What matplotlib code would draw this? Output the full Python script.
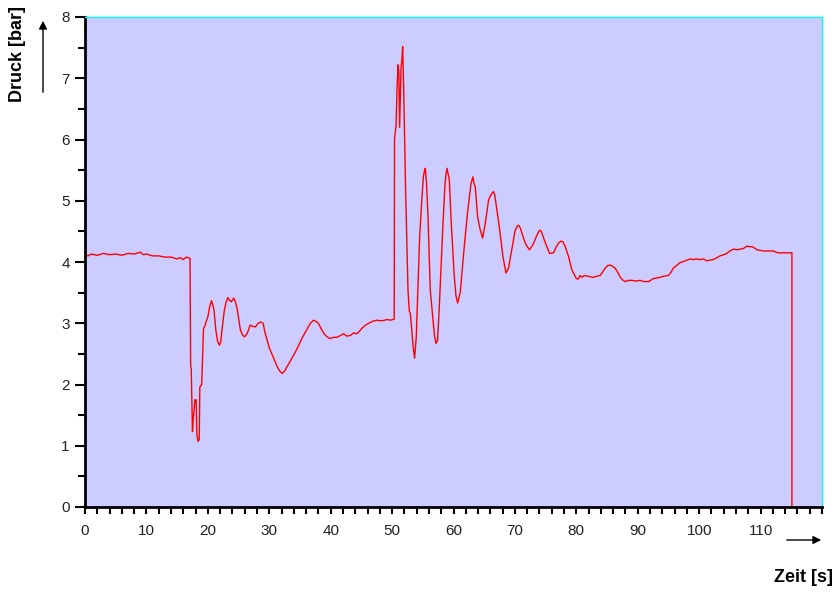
import numpy as np
import matplotlib
matplotlib.use("Agg")
import matplotlib.pyplot as plt
from matplotlib.ticker import MultipleLocator

plt.rcParams['font.family'] = ['Liberation Sans', 'DejaVu Sans']

# pressure trace (time in s, pressure in bar)
zeit = [0, 0.5, 1, 2, 3, 4, 5, 6, 7, 8, 9, 9.5, 10, 11, 12, 13, 14, 15, 15.5, 16, 16.5, 17.1,
        17.2, 17.3, 17.5, 17.6, 17.9, 18.1, 18.2, 18.4, 18.6, 18.7, 19.0, 19.1, 19.3, 19.5, 19.8,
        20.0, 20.3, 20.6, 20.8, 21.0, 21.3, 21.6, 21.9, 22.1, 22.3, 22.7, 23.0, 23.25, 23.5, 23.8,
        24.2, 24.5, 24.8, 25.3, 25.7, 26.0, 26.4, 26.9, 27.3, 27.75, 28.2, 28.6, 29.0, 29.3, 29.65,
        30.0, 30.5, 30.9, 31.3, 31.7, 32.1, 32.5, 32.9, 33.3, 33.7, 34.2, 34.8, 35.3, 35.9, 36.3,
        36.7, 37.2, 37.6, 38.0, 38.4, 38.9, 39.4, 39.9, 40.5, 41.0, 41.6, 42.1, 42.6, 43.2, 43.7,
        44.3, 44.7, 45.1, 45.7, 46.2, 46.8, 47.5, 48.3, 49.2, 49.8, 50.35,
        50.4, 50.64, 50.8, 50.97, 51.1, 51.23, 51.45, 51.6, 51.72, 51.88, 52.2, 52.59, 52.8, 52.97,
        53.2, 53.4, 53.67, 53.94, 54.22, 54.49, 54.81, 55.09, 55.3, 55.41, 55.6, 55.85, 56.22,
        56.66, 56.9, 57.15, 57.41, 57.69, 57.96, 58.29, 58.62, 58.8, 58.94, 59.1, 59.32, 59.64,
        60.13, 60.4, 60.67, 61.1, 61.65, 62.3, 62.85, 63.17, 63.3, 63.55, 63.92, 64.36, 64.74,
        65.17, 65.71, 66.0, 66.26, 66.5, 66.7, 67.0, 67.45, 68.05, 68.54, 68.97, 69.3, 69.68,
        70.0, 70.33, 70.6, 70.87, 71.3, 71.68, 72.0, 72.38, 72.7, 73.03, 73.5, 74.0, 74.3, 74.78,
        75.2, 75.64, 76.29, 76.7, 77.1, 77.5, 77.82, 78.2, 78.73, 79.28, 80.0, 80.3, 80.6, 80.9,
        81.3, 81.7, 82.3, 82.8, 83.4, 83.9, 84.3, 84.7, 85.1, 85.5, 85.9, 86.3, 86.7, 87.1, 87.5,
        87.96, 88.5, 89.0, 89.7, 90.4, 91.0, 91.75, 92.56, 93.1, 93.66, 94.3, 95.0, 95.4, 95.8,
        96.4, 96.9, 97.5, 98.0, 98.5, 99.07, 99.6, 100.1, 100.7, 101.25, 101.8, 102.3, 102.9,
        103.4, 104.0, 104.5, 105.0, 105.6, 106.2, 106.7, 107.2, 107.8, 108.2, 108.6, 109.0, 109.4,
        110.0, 110.5, 111.3, 112.1, 112.5, 112.9, 114.0, 115.1, 115.1]
druck = [4.12, 4.10, 4.13, 4.11, 4.14, 4.12, 4.13, 4.11, 4.14, 4.13, 4.16, 4.12, 4.13, 4.10, 4.10,
         4.08, 4.08, 4.05, 4.07, 4.04, 4.08, 4.06,
         2.30, 2.25, 1.23, 1.40, 1.75, 1.75, 1.20, 1.07, 1.10, 1.96, 2.00, 2.29, 2.92, 2.95, 3.05,
         3.10, 3.27, 3.37, 3.30, 3.22, 2.89, 2.70, 2.64, 2.70, 2.89, 3.22, 3.35, 3.42, 3.38, 3.35,
         3.41, 3.35, 3.22, 2.89, 2.80, 2.78, 2.83, 2.97, 2.95, 2.94, 3.00, 3.02, 3.00, 2.85, 2.73,
         2.60, 2.48, 2.38, 2.29, 2.22, 2.18, 2.22, 2.29, 2.36, 2.43, 2.52, 2.64, 2.75, 2.86, 2.93,
         3.00, 3.05, 3.03, 3.00, 2.92, 2.83, 2.78, 2.75, 2.77, 2.77, 2.80, 2.83, 2.79, 2.80, 2.84,
         2.83, 2.87, 2.92, 2.97, 3.00, 3.03, 3.05, 3.04, 3.06, 3.05, 3.07,
         6.02, 6.21, 6.81, 7.22, 7.10, 6.20, 7.16, 7.30, 7.52, 6.86, 5.18, 3.54, 3.20, 3.16,
         2.90, 2.64, 2.43, 2.78, 3.60, 4.41, 4.96, 5.39, 5.50, 5.53, 5.30, 4.74, 3.54,
         3.05, 2.80, 2.67, 2.72, 3.27, 3.87, 4.63, 5.28, 5.45, 5.53, 5.45, 5.34, 4.63,
         3.76, 3.45, 3.33, 3.50, 4.14, 4.82, 5.28, 5.39, 5.30, 5.22, 4.74, 4.52, 4.39,
         4.63, 5.01, 5.08, 5.12, 5.15, 5.10, 4.90, 4.58, 4.09, 3.82, 3.90, 4.10, 4.31,
         4.50, 4.58, 4.60, 4.56, 4.42, 4.31, 4.25, 4.20, 4.25, 4.30, 4.42, 4.52, 4.50, 4.36,
         4.25, 4.14, 4.15, 4.24, 4.31, 4.34, 4.33, 4.25, 4.09, 3.87, 3.73, 3.72, 3.78, 3.75,
         3.78, 3.77, 3.76, 3.75, 3.77, 3.78, 3.84, 3.90, 3.94, 3.95, 3.93, 3.90, 3.84, 3.76, 3.71,
         3.68, 3.70, 3.70, 3.69, 3.70, 3.68, 3.68, 3.73, 3.74, 3.75, 3.77, 3.78, 3.83, 3.90,
         3.95, 3.99, 4.01, 4.03, 4.05, 4.04, 4.05, 4.04, 4.05, 4.02, 4.03, 4.04, 4.07,
         4.10, 4.12, 4.14, 4.18, 4.21, 4.20, 4.21, 4.22, 4.26, 4.25, 4.25, 4.23, 4.20,
         4.19, 4.18, 4.18, 4.18, 4.16, 4.15, 4.15, 4.15, 0.0]

fig = plt.figure(figsize=(8.36, 5.92), dpi=100)
ax = fig.add_axes([85 / 836, 85 / 592, 737 / 836, 490 / 592])
ax.set_facecolor('#ccccff')

ax.plot(zeit, druck, color='#ff0000', lw=1.0)

ax.set_xlim(0, 120)
ax.set_ylim(0, 8)
ax.xaxis.set_minor_locator(MultipleLocator(2))
ax.yaxis.set_major_locator(MultipleLocator(1))
ax.yaxis.set_minor_locator(MultipleLocator(0.5))
ax.set_xticks(np.arange(0, 111, 10))

ax.tick_params(axis='both', which='both', direction='out', color='black', width=1.5,
               labelsize=11, labelcolor='#222222')
ax.tick_params(axis='x', which='both', length=5, pad=7)
ax.tick_params(axis='y', which='major', length=7, pad=4)
ax.tick_params(axis='y', which='minor', length=5)

for s in ['left', 'bottom']:
    ax.spines[s].set_color('black')
    ax.spines[s].set_linewidth(2)
for s in ['top', 'right']:
    ax.spines[s].set_color('#00ffff')
    ax.spines[s].set_linewidth(1)

fig.text(18 / 836, 1 - 54 / 592, 'Druck [bar]', rotation=90, ha='center', va='center',
         fontsize=13, fontweight='bold')
fig.text(803 / 836, 1 - 578 / 592, 'Zeit [s]', ha='center', va='center',
         fontsize=13, fontweight='bold')

fig.patches.append(matplotlib.patches.FancyArrowPatch(
    (43 / 836, 1 - 95 / 592), (43 / 836, 1 - 18 / 592), transform=fig.transFigure,
    arrowstyle='-|>', mutation_scale=12, color='black', lw=1))
fig.patches.append(matplotlib.patches.FancyArrowPatch(
    (784 / 836, 1 - 540 / 592), (824 / 836, 1 - 540 / 592), transform=fig.transFigure,
    arrowstyle='-|>', mutation_scale=12, color='black', lw=1))

fig.savefig('out.png', dpi=100)
